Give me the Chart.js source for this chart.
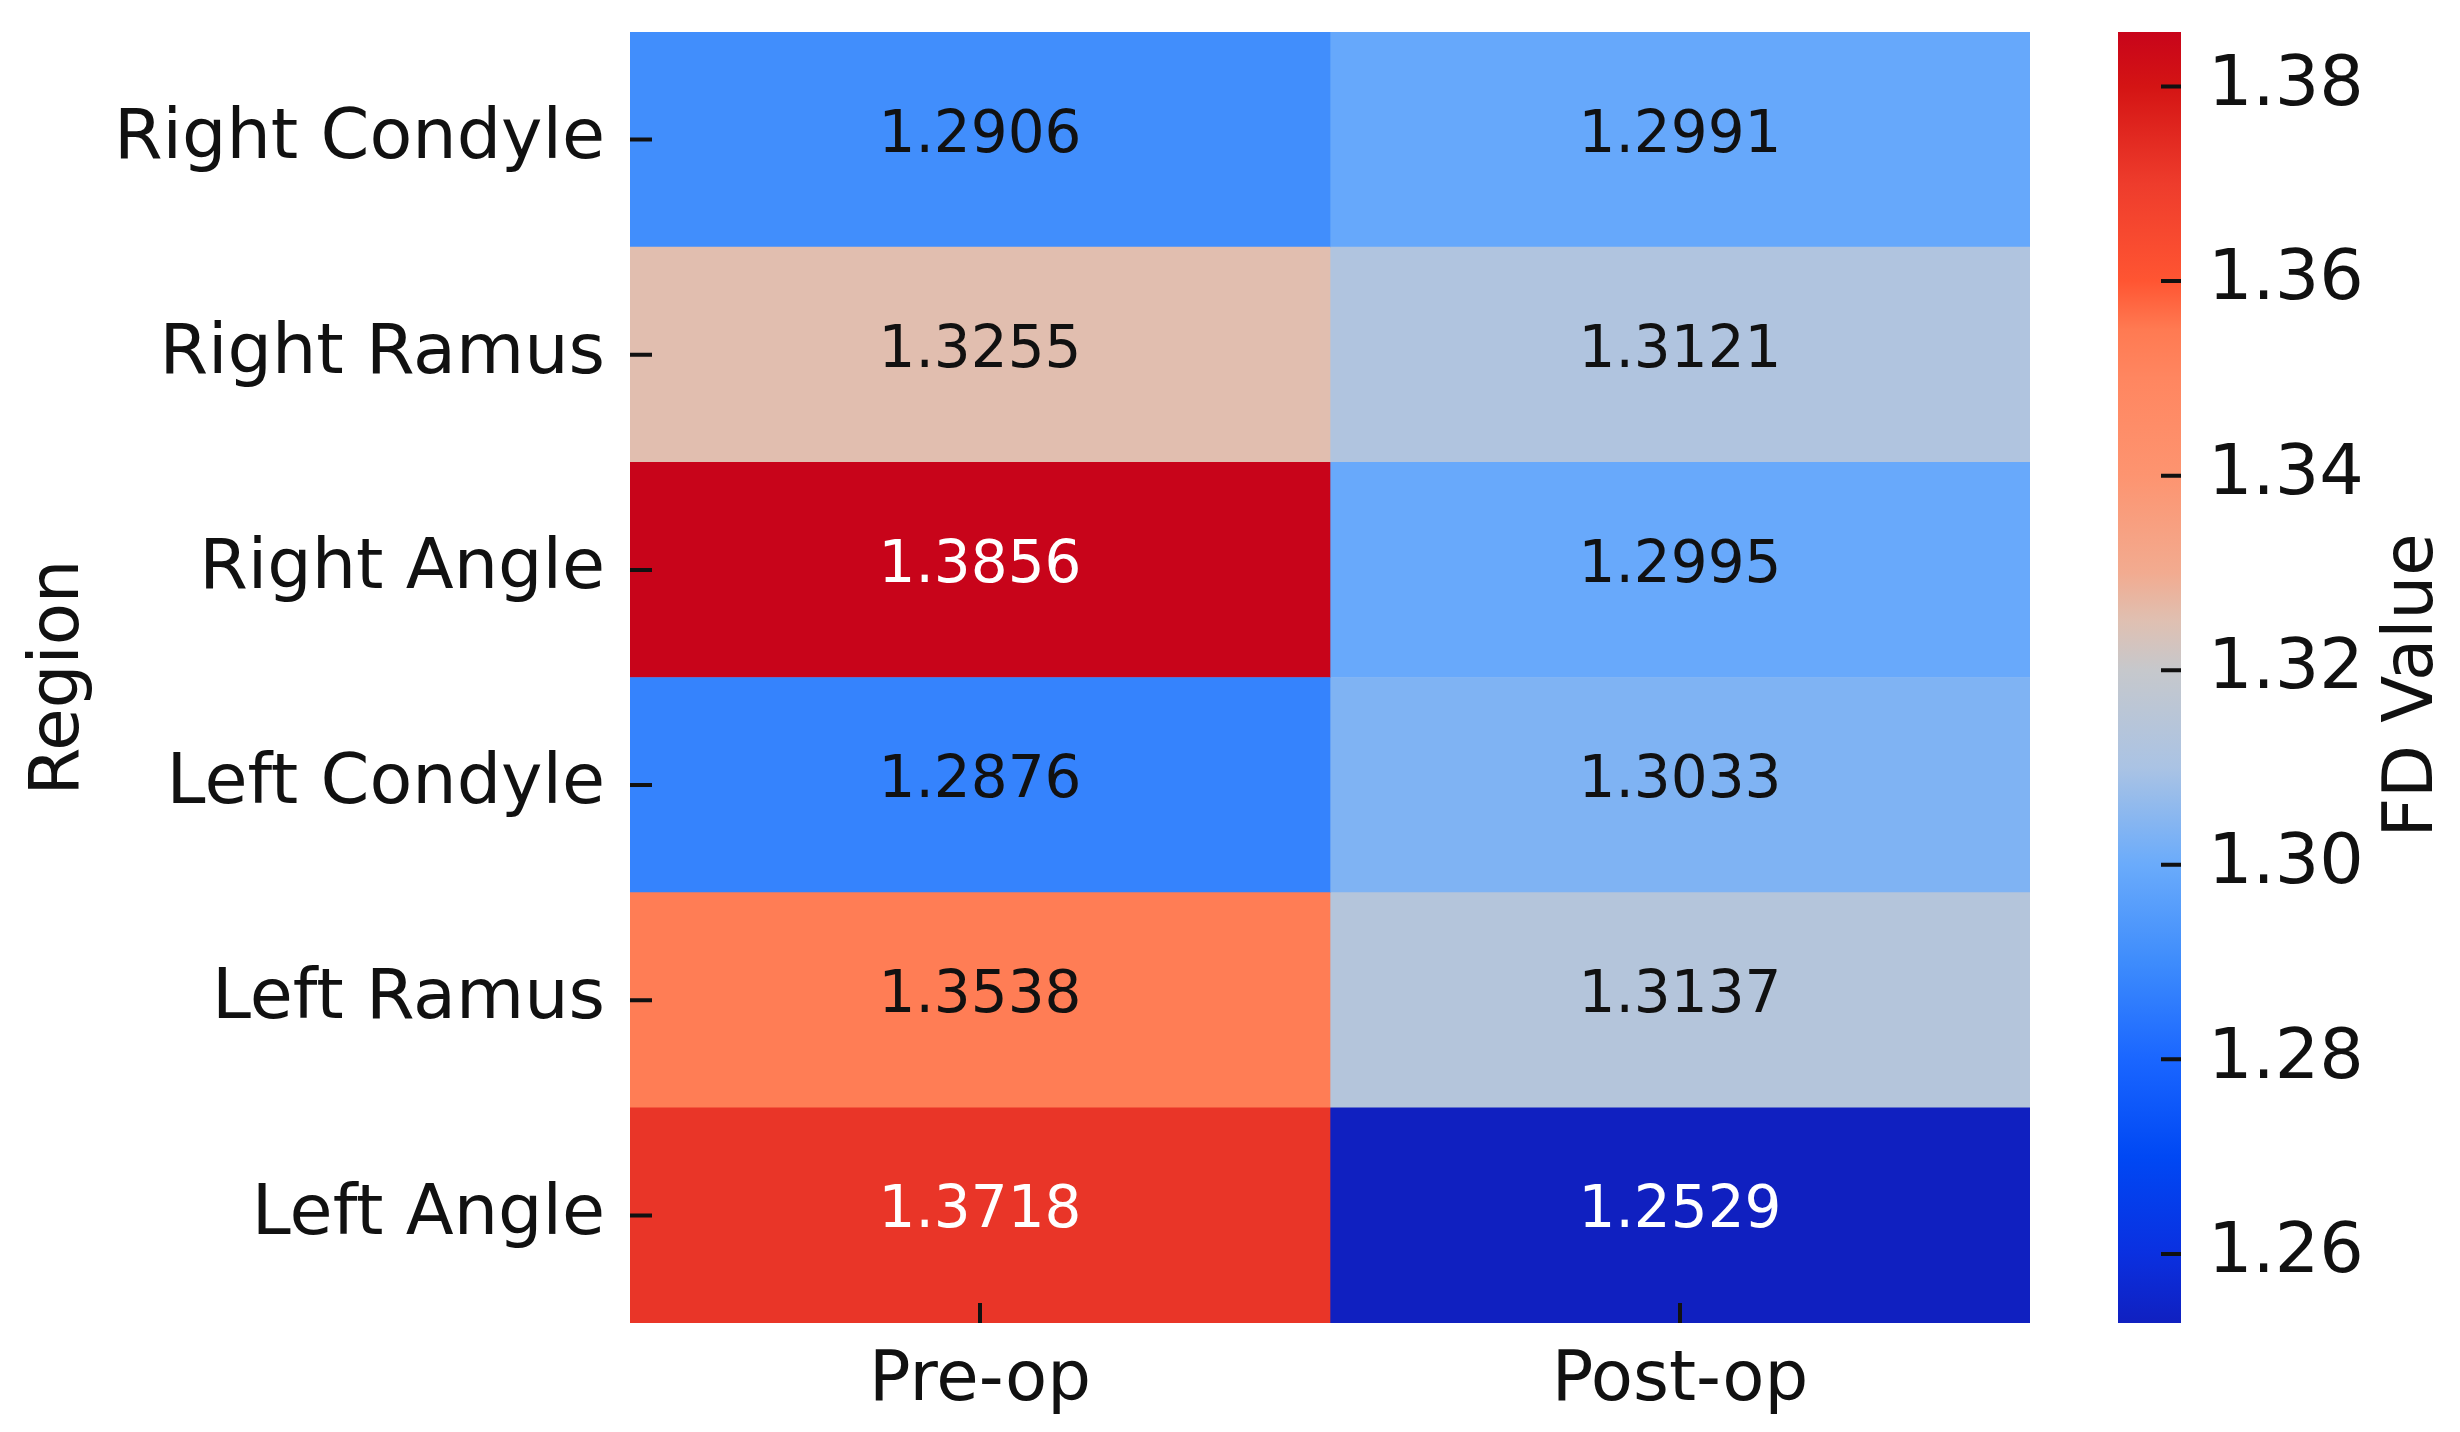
<!DOCTYPE html>
<html>
<head>
<meta charset="utf-8">
<script src="https://cdn.jsdelivr.net/npm/chart.js@4.4.1/dist/chart.umd.min.js"></script>
<style>
  html, body { margin: 0; padding: 0; background: #fff; }
  #wrap { position: relative; width: 2460px; height: 1432px; background: #fff; }
  #heat { position: absolute; left: 0; top: 0; }
  #cbar { position: absolute; left: 2060px; top: 0; }
</style>
</head>
<body>
<div id="wrap">
  <canvas id="heat" width="2060" height="1432"></canvas>
  <canvas id="cbar" width="400" height="1432"></canvas>
</div>
<script>
// data
const regions = ["Right Condyle", "Right Ramus", "Right Angle", "Left Condyle", "Left Ramus", "Left Angle"];
const phases = ["Pre-op", "Post-op"];
const preOp = [1.2906, 1.3255, 1.3856, 1.2876, 1.3538, 1.3718];
const postOp = [1.2991, 1.3121, 1.2995, 1.3033, 1.3137, 1.2529];
const cbTicks = [1.26, 1.28, 1.30, 1.32, 1.34, 1.36, 1.38];
const vmin = 1.2529, vmax = 1.3856;

// colormap stops (value -> colour)
const cmapVals = [1.2529, 1.26, 1.27, 1.28, 1.29, 1.30, 1.31, 1.32, 1.325, 1.33, 1.34, 1.35, 1.355, 1.36, 1.37, 1.38, 1.3856];
const cmapCols = ["#1020c0", "#0a30e0", "#0048f4", "#1a66ff", "#3e8cfc", "#6aabfb", "#aac3e4", "#c6c8cc", "#dfc0b2",
  "#f2ab90", "#fd9470", "#ff8660", "#ff7a52", "#ff5532", "#ee3c2c", "#d41414", "#c8041a"];

const FONT = "'DejaVu Sans', 'Liberation Sans', sans-serif";

function hex(h){ return [1,3,5].map(i => parseInt(h.slice(i, i+2), 16)); }
function cmapRGB(v){
  if (v <= cmapVals[0]) return hex(cmapCols[0]);
  for (let i = 1; i < cmapVals.length; i++) {
    if (v <= cmapVals[i]) {
      const t = (v - cmapVals[i-1]) / (cmapVals[i] - cmapVals[i-1]);
      const a = hex(cmapCols[i-1]), b = hex(cmapCols[i]);
      return a.map((x, k) => Math.round(x + (b[k] - x) * t));
    }
  }
  return hex(cmapCols[cmapCols.length - 1]);
}
function cmap(v){ const c = cmapRGB(v); return `rgb(${c[0]},${c[1]},${c[2]})`; }
function lum(v){
  const lin = cmapRGB(v).map(x => { x /= 255; return x <= 0.03928 ? x / 12.92 : Math.pow((x + 0.055) / 1.055, 2.4); });
  return 0.2126 * lin[0] + 0.7152 * lin[1] + 0.0722 * lin[2];
}

const series = [preOp, postOp];

// cell labels + inward tick marks
const heatPlugin = {
  id: "heatPlugin",
  afterDatasetsDraw(chart) {
    const { ctx, chartArea: a, scales } = chart;
    ctx.save();
    ctx.font = `58px ${FONT}`;
    ctx.textAlign = "center";
    ctx.textBaseline = "middle";
    chart.data.datasets.forEach((ds, di) => {
      chart.getDatasetMeta(di).data.forEach((el, i) => {
        const v = series[di][i];
        ctx.fillStyle = lum(v) < 0.21 ? "#ffffff" : "#111111";
        ctx.fillText(v.toFixed(4), (el.x + el.base) / 2, el.y - 3);
      });
    });
    ctx.strokeStyle = "#111";
    ctx.lineWidth = 4;
    ctx.beginPath();
    scales.y.ticks.forEach((t, i) => {
      const y = scales.y.getPixelForTick(i);
      ctx.moveTo(a.left, y); ctx.lineTo(a.left + 22, y);
    });
    scales.x.ticks.forEach(t => {
      const x = scales.x.getPixelForValue(t.value);
      ctx.moveTo(x, a.bottom); ctx.lineTo(x, a.bottom - 20);
    });
    ctx.stroke();
    ctx.restore();
  }
};

new Chart(document.getElementById("heat"), {
  type: "bar",
  data: {
    labels: regions,
    datasets: phases.map((p, ci) => ({
      label: p,
      data: series[ci].map(() => [ci, ci + 1]),
      backgroundColor: series[ci].map(cmap),
      borderWidth: 0,
      barPercentage: 1,
      categoryPercentage: 1,
      grouped: false
    }))
  },
  options: {
    indexAxis: "y",
    responsive: false,
    animation: false,
    devicePixelRatio: 1,
    layout: { padding: { left: 0, top: 32, right: 30, bottom: 0 } },
    plugins: { legend: { display: false }, tooltip: { enabled: false } },
    scales: {
      x: {
        type: "linear", min: 0, max: 2,
        afterBuildTicks: s => { s.ticks = [{ value: 0.5 }, { value: 1.5 }]; },
        afterFit: s => { s.height = 109; s.paddingLeft = 0; s.paddingRight = 0; },
        grid: { display: false, drawTicks: false },
        border: { display: false },
        ticks: { color: "#111", font: { family: FONT, size: 69 }, padding: 18, autoSkip: false, maxRotation: 0,
          callback: (v, i) => phases[i] }
      },
      y: {
        type: "category",
        afterFit: s => { s.width = 630; s.paddingTop = 0; s.paddingBottom = 0; },
        grid: { display: false, drawTicks: false },
        border: { display: false },
        ticks: { color: "#111", font: { family: FONT, size: 70 }, padding: 25 },
        title: { display: true, text: "Region", color: "#111", font: { family: FONT, size: 69 }, padding: { top: 19, bottom: 0 } }
      }
    }
  },
  plugins: [heatPlugin]
});

// colour bar
const cbPlugin = {
  id: "cbPlugin",
  afterDraw(chart) {
    const { ctx, chartArea: a, scales } = chart;
    ctx.save();
    ctx.strokeStyle = "#111";
    ctx.lineWidth = 4;
    ctx.beginPath();
    scales.y.ticks.forEach(t => {
      const y = scales.y.getPixelForValue(t.value);
      ctx.moveTo(a.right - 20, y); ctx.lineTo(a.right, y);
    });
    ctx.stroke();
    ctx.translate(354, (a.top + a.bottom) / 2 + 8);
    ctx.rotate(-Math.PI / 2);
    ctx.font = `69px ${FONT}`;
    ctx.fillStyle = "#111";
    ctx.textAlign = "center";
    ctx.textBaseline = "middle";
    ctx.fillText("FD Value", 0, 0);
    ctx.restore();
  }
};

new Chart(document.getElementById("cbar"), {
  type: "bar",
  data: {
    labels: ["FD Value"],
    datasets: [{
      data: [[vmin, vmax]],
      backgroundColor: c => {
        const { chart } = c;
        const y = chart.scales.y;
        if (!chart.chartArea || !y) return cmapCols[0];
        const g = chart.ctx.createLinearGradient(0, y.getPixelForValue(vmin), 0, y.getPixelForValue(vmax));
        cmapVals.forEach((v, i) => g.addColorStop((v - vmin) / (vmax - vmin), cmapCols[i]));
        return g;
      },
      borderWidth: 0,
      barPercentage: 1,
      categoryPercentage: 1
    }]
  },
  options: {
    responsive: false,
    animation: false,
    devicePixelRatio: 1,
    layout: { padding: { left: 58, top: 32, right: 0, bottom: 109 } },
    plugins: { legend: { display: false }, tooltip: { enabled: false } },
    scales: {
      x: { display: false },
      y: {
        type: "linear", position: "right", min: vmin, max: vmax,
        afterBuildTicks: s => { s.ticks = cbTicks.map(v => ({ value: v })); },
        afterFit: s => { s.width = 279; s.paddingTop = 0; s.paddingBottom = 0; },
        grid: { display: false, drawTicks: false },
        border: { display: false },
        ticks: { color: "#111", font: { family: FONT, size: 70 }, padding: 27, callback: v => v.toFixed(2) }
      }
    }
  },
  plugins: [cbPlugin]
});
</script>
</body>
</html>
